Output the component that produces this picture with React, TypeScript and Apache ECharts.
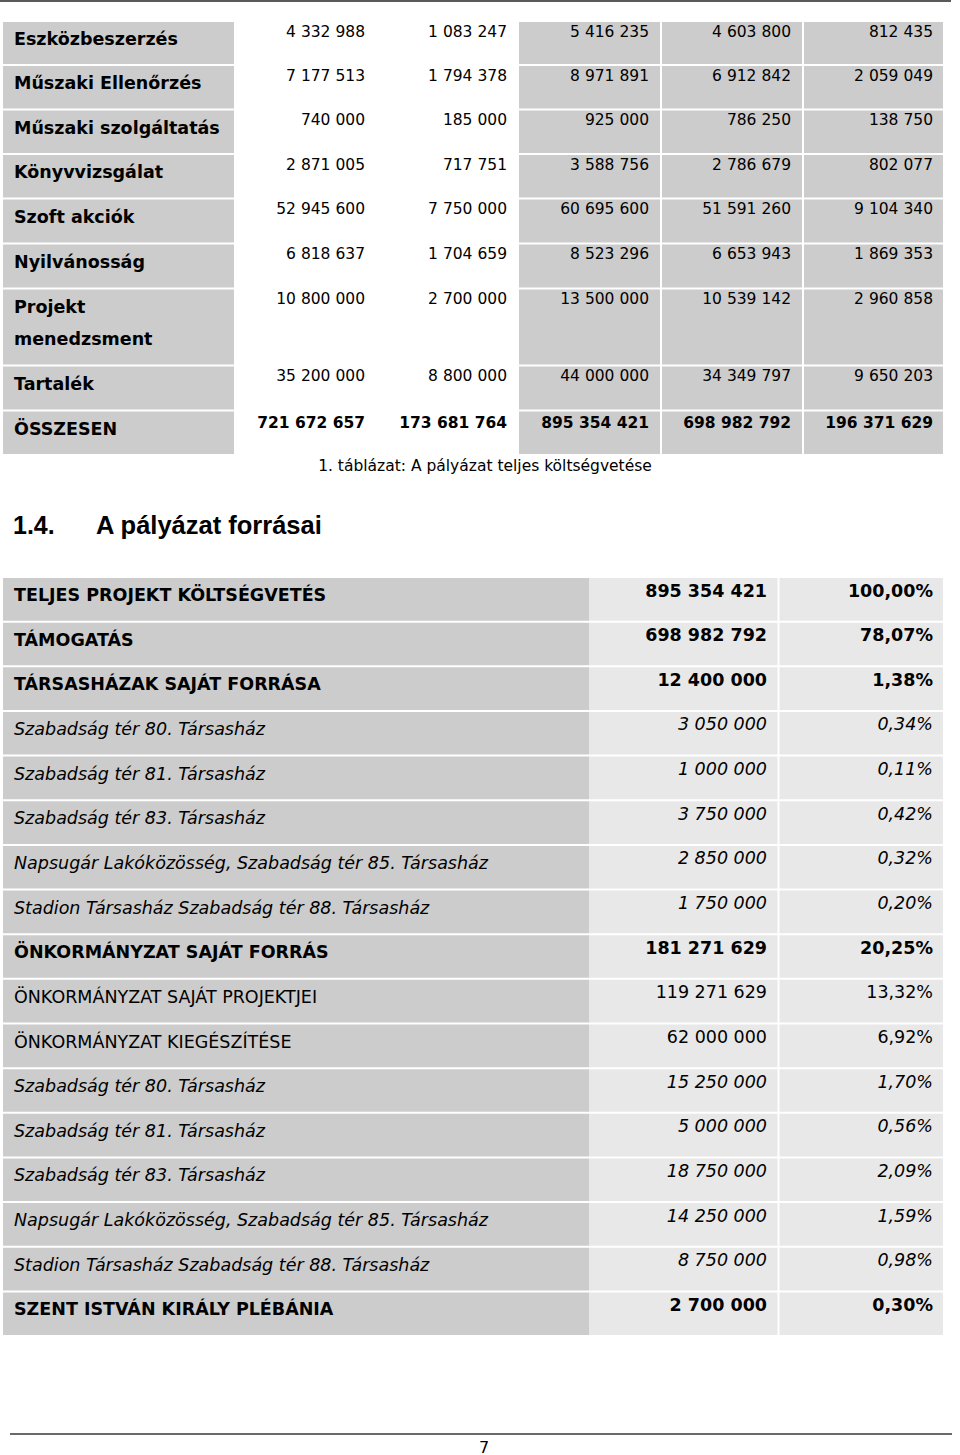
import React, { useEffect, useRef } from "react";
import * as echarts from "echarts";

// ---- Table 1: full project budget ----
const budgetCategories = [
  "Eszközbeszerzés",
  "Műszaki Ellenőrzés",
  "Műszaki szolgáltatás",
  "Könyvvizsgálat",
  "Szoft akciók",
  "Nyilvánosság",
  "Projekt\nmenedzsment",
  "Tartalék",
  "ÖSSZESEN",
];
const budgetCol1 = [4332988, 7177513, 740000, 2871005, 52945600, 6818637, 10800000, 35200000, 721672657];
const budgetCol2 = [1083247, 1794378, 185000, 717751, 7750000, 1704659, 2700000, 8800000, 173681764];
const budgetCol3 = [5416235, 8971891, 925000, 3588756, 60695600, 8523296, 13500000, 44000000, 895354421];
const budgetCol4 = [4603800, 6912842, 786250, 2786679, 51591260, 6653943, 10539142, 34349797, 698982792];
const budgetCol5 = [812435, 2059049, 138750, 802077, 9104340, 1869353, 2960858, 9650203, 196371629];
const tableCaption = "1. táblázat: A pályázat teljes költségvetése";

// ---- Table 2: sources ----
const sectionNumber = "1.4.";
const sectionTitle = "A pályázat forrásai";
const sourceLabels = [
  "TELJES PROJEKT KÖLTSÉGVETÉS",
  "TÁMOGATÁS",
  "TÁRSASHÁZAK SAJÁT FORRÁSA",
  "Szabadság tér 80. Társasház",
  "Szabadság tér 81. Társasház",
  "Szabadság tér 83. Társasház",
  "Napsugár Lakóközösség, Szabadság tér 85. Társasház",
  "Stadion Társasház Szabadság tér 88. Társasház",
  "ÖNKORMÁNYZAT SAJÁT FORRÁS",
  "ÖNKORMÁNYZAT SAJÁT PROJEKTJEI",
  "ÖNKORMÁNYZAT KIEGÉSZÍTÉSE",
  "Szabadság tér 80. Társasház",
  "Szabadság tér 81. Társasház",
  "Szabadság tér 83. Társasház",
  "Napsugár Lakóközösség, Szabadság tér 85. Társasház",
  "Stadion Társasház Szabadság tér 88. Társasház",
  "SZENT ISTVÁN KIRÁLY PLÉBÁNIA",
];
const sourceAmounts = [
  895354421, 698982792, 12400000, 3050000, 1000000, 3750000, 2850000, 1750000,
  181271629, 119271629, 62000000, 15250000, 5000000, 18750000, 14250000, 8750000, 2700000,
];
const sourcePercents = [
  100.0, 78.07, 1.38, 0.34, 0.11, 0.42, 0.32, 0.2, 20.25, 13.32, 6.92, 1.7, 0.56, 2.09, 1.59, 0.98, 0.3,
];
// b = bold, i = italic, n = normal
const sourceStyles = ["b", "b", "b", "i", "i", "i", "i", "i", "b", "n", "n", "i", "i", "i", "i", "i", "b"];
const pageNumber = "7";

const fmt = (n: number) => String(n).replace(/\B(?=(\d{3})+(?!\d))/g, " ");
const fmtPct = (p: number) => p.toFixed(2).replace(".", ",") + "%";

const FONT = "'DejaVu Sans', Verdana, sans-serif";

function txt(text: string, x: number, y: number, opts: any = {}) {
  const align = opts.align || "left";
  const va = opts.verticalAlign || "middle";
  return {
    type: "text",
    silent: true,
    style: {
      text,
      x,
      y,
      fill: opts.fill || "#000",
      fontFamily: opts.fontFamily || FONT,
      fontSize: opts.fontSize || 17.5,
      fontWeight: opts.fontWeight || "normal",
      fontStyle: opts.fontStyle || "normal",
      lineHeight: opts.lineHeight,
      align,
      verticalAlign: va,
      textAlign: align,
      textVerticalAlign: va,
    },
  };
}

function rect(x: number, y: number, w: number, h: number, fill: string) {
  return { type: "rect", silent: true, shape: { x, y, width: w, height: h }, style: { fill } };
}

export default function App() {
  const ref = useRef<HTMLDivElement>(null);
  useEffect(() => {
    if (!ref.current) return;
    const chart = echarts.init(ref.current, undefined, { renderer: "svg" });
    const els: any[] = [];

    // top & bottom page rules
    els.push(rect(0, 0, 951, 2, "#5a5a5a"));
    els.push(rect(10, 1433, 942, 2, "#6a6a6a"));

    // ---- Table 1 ----
    const t1Bounds = [22, 66, 110.5, 155, 199.5, 244.5, 289.5, 366.5, 411.5, 456];
    const greyCols = [
      [519, 660],
      [662, 802],
      [804, 943],
    ];
    const cols = [budgetCol1, budgetCol2, budgetCol3, budgetCol4, budgetCol5];
    const colRight = [365, 507, 649, 791, 933];
    budgetCategories.forEach((label, i) => {
      const top = t1Bounds[i];
      const h = t1Bounds[i + 1] - top - 2;
      els.push(rect(3, top, 231, h, "#cccccc"));
      greyCols.forEach(([a, b]) => els.push(rect(a, top, b - a, h, "#cccccc")));
      els.push(
        txt(label, 14, top + 1, { fontWeight: "bold", verticalAlign: "top", lineHeight: 32, fontSize: 17.5 })
      );
      const isTotal = i === budgetCategories.length - 1;
      cols.forEach((col, c) => {
        els.push(
          txt(fmt(col[i]), colRight[c], top + (isTotal ? 11 : 9.5), {
            align: "right",
            fontSize: 15.5,
            fontWeight: isTotal ? "bold" : "normal",
          })
        );
      });
    });
    els.push(txt(tableCaption, 485, 466, { align: "center", fontSize: 15.5 }));

    // ---- Heading ----
    els.push(
      txt(sectionNumber, 13, 525, { fontFamily: "'Liberation Sans', Arial, sans-serif", fontSize: 25, fontWeight: "bold" })
    );
    els.push(
      txt(sectionTitle, 96, 525, { fontFamily: "'Liberation Sans', Arial, sans-serif", fontSize: 25.5, fontWeight: "bold" })
    );

    // ---- Table 2 ----
    const t2Top = 578;
    const rowH = 44.65;
    sourceLabels.forEach((label, i) => {
      const top = t2Top + i * rowH;
      const h = rowH - 2;
      els.push(rect(3, top, 586, h, "#cccccc"));
      els.push(rect(589, top, 188.5, h, "#e8e8e8"));
      els.push(rect(779.5, top, 163.5, h, "#e8e8e8"));
      const s = sourceStyles[i];
      const o = {
        fontWeight: s === "b" ? "bold" : "normal",
        fontStyle: s === "i" ? "italic" : "normal",
        fontSize: 17.5,
      };
      els.push(txt(label, 14, top + 17, o));
      els.push(txt(fmt(sourceAmounts[i]), 767, top + 12.5, { ...o, align: "right" }));
      els.push(txt(fmtPct(sourcePercents[i]), 933, top + 12.5, { ...o, align: "right" }));
    });

    els.push(txt(pageNumber, 484, 1447, { align: "center", fontSize: 16 }));

    chart.setOption({
      animation: false,
      backgroundColor: "#ffffff",
      graphic: { elements: els },
    });
    return () => chart.dispose();
  }, []);
  return (
    <div
      ref={ref}
      style={{ position: "absolute", left: 0, top: 0, width: 960, height: 1455, background: "#fff" }}
    />
  );
}
